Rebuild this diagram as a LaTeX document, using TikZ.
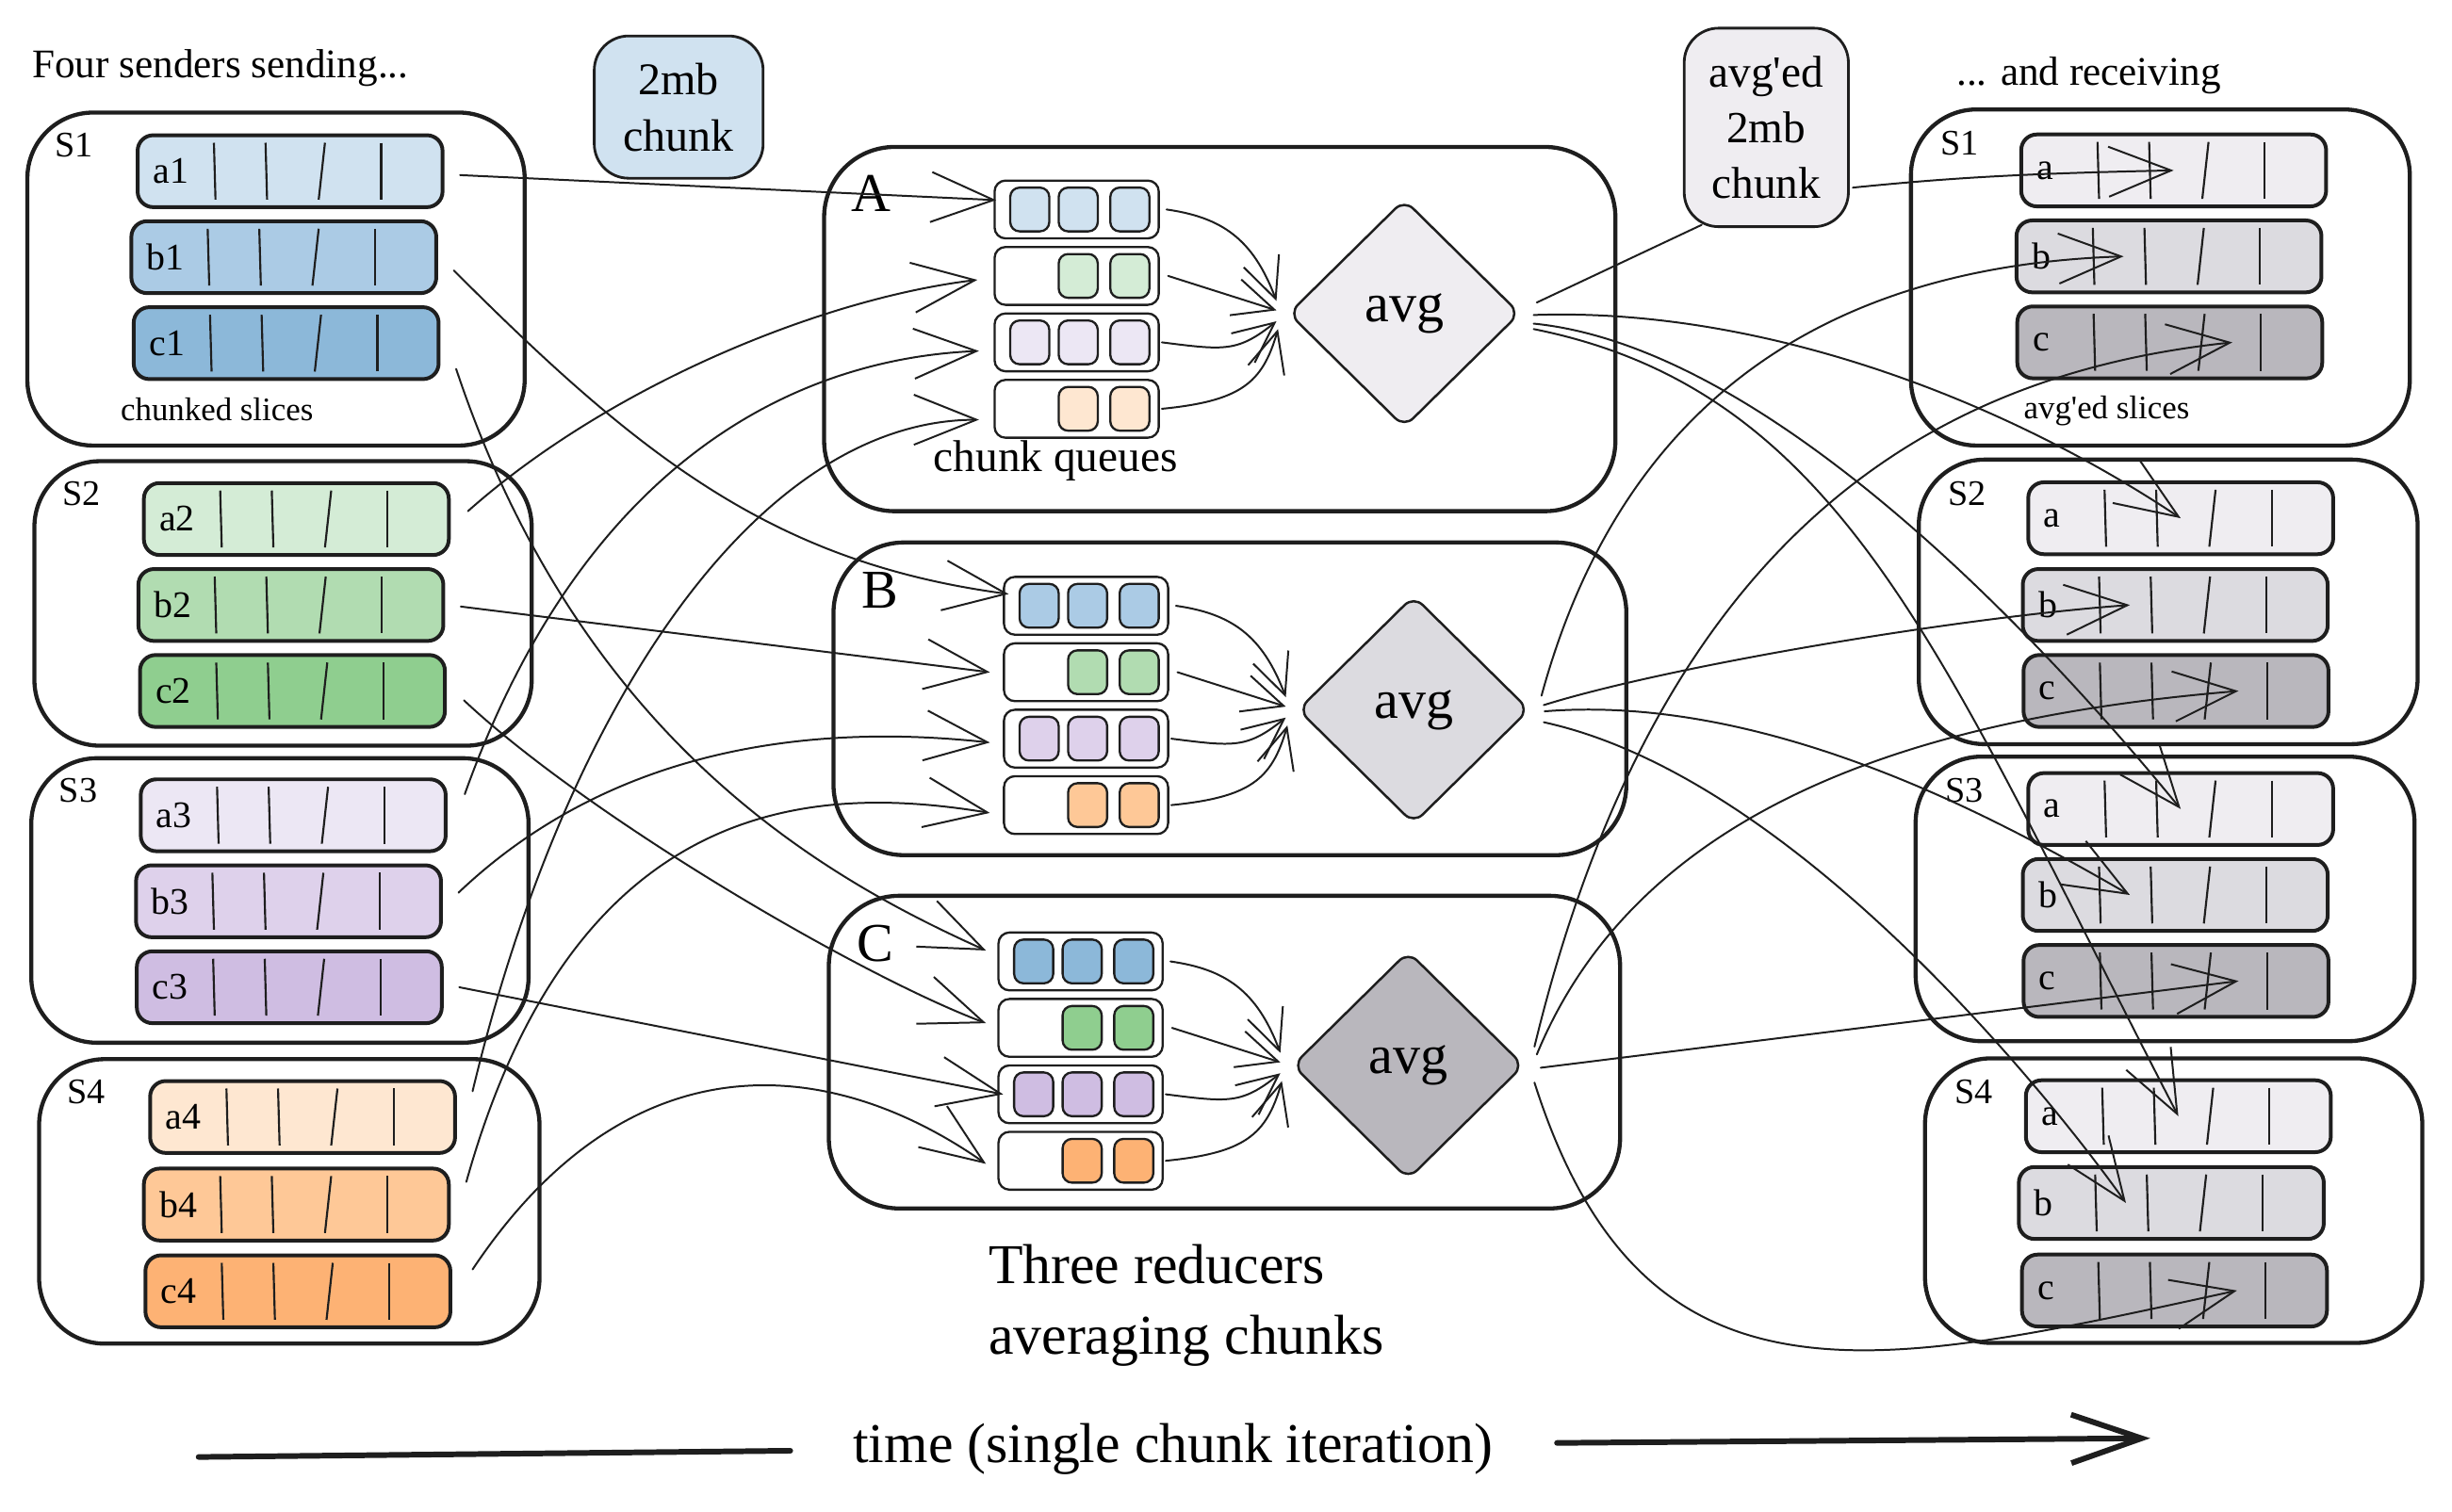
\documentclass[tikz,border=0pt]{standalone}
\usepackage{fontspec}
\setmainfont{Liberation Serif}
\usetikzlibrary{arrows.meta,positioning,shapes.geometric}

\definecolor{ink}{HTML}{1E1E1E}
\definecolor{blueA}{HTML}{D0E2F0}
\definecolor{blueB}{HTML}{ABCBE5}
\definecolor{blueC}{HTML}{8CB8D9}
\definecolor{greenA}{HTML}{D4ECD6}
\definecolor{greenB}{HTML}{B1DCB1}
\definecolor{greenC}{HTML}{8FCE8F}
\definecolor{purpleA}{HTML}{ECE7F4}
\definecolor{purpleB}{HTML}{DED1EB}
\definecolor{purpleC}{HTML}{CFBDE2}
\definecolor{orangeA}{HTML}{FEE7D1}
\definecolor{orangeB}{HTML}{FEC897}
\definecolor{orangeC}{HTML}{FDB274}
\definecolor{grayA}{HTML}{EFEDF1}
\definecolor{grayB}{HTML}{DCDBE0}
\definecolor{grayC}{HTML}{B9B7BD}

\tikzset{
  sender/.style={draw=ink, line width=2.6pt, rounded corners=42pt, minimum width=318pt, minimum height=182pt},
  reducer/.style={draw=ink, line width=2.6pt, rounded corners=45pt, minimum width=506pt, minimum height=200pt},
  slicebox/.style={draw=ink, line width=2.4pt, rounded corners=10pt, text width=175pt, inner xsep=10pt, inner ysep=0pt, minimum height=46pt, align=left, font=\fontsize{24}{28}\selectfont},
  divider/.style={draw=ink, line width=1.3pt},
  queuerow/.style={draw=ink, line width=1.4pt, rounded corners=7pt, minimum width=105pt, minimum height=37pt, inner sep=0pt, outer sep=0pt},
  qcell/.style={draw=ink, line width=1.4pt, rounded corners=6pt, minimum width=25pt, minimum height=28pt, inner sep=0pt},
  avgdiamond/.style={diamond, draw=ink, line width=1.5pt, rounded corners=8pt, minimum width=148pt, minimum height=146pt, inner sep=0pt, font=\fontsize{35}{40}\selectfont},
  legendbox/.style={draw=ink, line width=1.7pt, rounded corners=22pt, align=center, inner sep=0pt, font=\fontsize{29}{36}\selectfont},
  boxlab/.style={anchor=base west, inner sep=0pt, font=\fontsize{23}{27}\selectfont},
  redlab/.style={inner sep=0pt, font=\fontsize{35}{40}\selectfont},
  note/.style={anchor=base west, inner sep=0pt, font=\fontsize{26}{31}\selectfont},
  smallnote/.style={anchor=base west, inner sep=0pt, font=\fontsize{21}{25}\selectfont},
  bignote/.style={inner sep=0pt, font=\fontsize{36}{45}\selectfont},
  conn/.style={draw=ink, line width=1.2pt, line cap=round, -{Straight Barb[length=40pt, width=32pt]}},
  joinline/.style={draw=ink, line width=1.2pt, line cap=round},
  feed/.style={draw=ink, line width=1.2pt, line cap=round, -{Straight Barb[length=26pt, width=24pt]}},
  timeline/.style={draw=ink, line width=3.6pt, line cap=round},
}

\begin{document}
\begin{tikzpicture}[x=1pt, y=-1pt]
  \useasboundingbox (0,0) rectangle (1568,967);

  % senders
  \node[note] (sendnote) at (20.5,50) {Four senders sending...};
  \node[sender, minimum height=213pt] (s1) at (176.5,178.5) {};
  \node[sender] (s2) at (181,386) {};
  \node[sender] (s3) at (179,576) {};
  \node[sender, minimum width=320pt] (s4) at (185,768.5) {};
  \foreach \n in {1,...,4}
    \node[boxlab] (slab\n) at ([shift={(19,29.5)}]s\n.north west) {S\n};
  \node[slicebox, fill=blueA] (a1) at (185.5,109.5) {a1};
  \node[slicebox, fill=blueB] (b1) at (181.5,164.5) {b1};
  \node[slicebox, fill=blueC] (c1) at (183,219.5) {c1};
  \node[slicebox, fill=greenA] (a2) at (189.5,332) {a2};
  \node[slicebox, fill=greenB] (b2) at (186,387) {b2};
  \node[slicebox, fill=greenC] (c2) at (187,442) {c2};
  \node[slicebox, fill=purpleA] (a3) at (187.5,521.5) {a3};
  \node[slicebox, fill=purpleB] (b3) at (184.5,576.5) {b3};
  \node[slicebox, fill=purpleC] (c3) at (185,631.5) {c3};
  \node[slicebox, fill=orangeA] (a4) at (193.5,714.5) {a4};
  \node[slicebox, fill=orangeB] (b4) at (189.5,770.5) {b4};
  \node[slicebox, fill=orangeC] (c4) at (190.5,826) {c4};
  \node[smallnote] (chunknote) at (77,269) {chunked slices};
  \node[legendbox, fill=blueA, minimum width=108pt, minimum height=91pt] (mbbox) at (434,68.5) {2mb\\chunk};

  % reducers
  \node[reducer, minimum height=233pt] (rA) at (780,210.5) {};
  \node[reducer, minimum width=507pt] (rB) at (786.5,447) {};
  \node[reducer] (rC) at (783,673) {};
  \node[redlab] (labA) at (557,123.5) {A};
  \node[redlab] (labB) at (563,377.5) {B};
  \node[redlab] (labC) at (560,603.5) {C};
  \node[queuerow] (qA1) at (688.5,134) {};
  \node[queuerow, below=5.5pt of qA1] (qA2) {};
  \node[queuerow, below=5.5pt of qA2] (qA3) {};
  \node[queuerow, below=5.5pt of qA3] (qA4) {};
  \node[queuerow] (qB1) at (694.5,387.5) {};
  \node[queuerow, below=5.5pt of qB1] (qB2) {};
  \node[queuerow, below=5.5pt of qB2] (qB3) {};
  \node[queuerow, below=5.5pt of qB3] (qB4) {};
  \node[queuerow] (qC1) at (691,615) {};
  \node[queuerow, below=5.5pt of qC1] (qC2) {};
  \node[queuerow, below=5.5pt of qC2] (qC3) {};
  \node[queuerow, below=5.5pt of qC3] (qC4) {};
  \foreach \q in {A,B,C} {
    \foreach \row/\cl in {1/blue,3/purple}
      \foreach \off [count=\idx] in {-30,1,34}
        \node[qcell, fill=\cl\q] (q\q\row-\idx) at ([xshift=\off pt]q\q\row.center) {};
    \foreach \row/\cl in {2/green,4/orange}
      \foreach \off [count=\idx] in {1,34}
        \node[qcell, fill=\cl\q] (q\q\row-\idx) at ([xshift=\off pt]q\q\row.center) {};
  }
  \node[inner sep=0pt, font=\fontsize{28.5}{34}\selectfont] (queuenote) at (675,295) {chunk queues};
  \node[avgdiamond, fill=grayA] (avgA) at (898,200.5) {avg};
  \node[avgdiamond, fill=grayB] (avgB) at (904,454) {avg};
  \node[avgdiamond, fill=grayC] (avgC) at (900.5,681.5) {avg};
  \node[bignote, anchor=west, align=left] (rednote) at (632,835) {Three reducers\\averaging chunks};

  % receivers
  \node[note] (recvnote) at (1251,54.6) {... and receiving};
  \node[legendbox, fill=grayA, minimum width=105pt, minimum height=127pt, font=\fontsize{28.5}{35.7}\selectfont] (avgbox) at (1129.5,81.5) {avg\textquotesingle ed\\2mb\\chunk};
  \node[sender, minimum width=319pt, minimum height=215pt] (t1) at (1381.5,177.5) {};
  \node[sender, minimum width=319pt] (t2) at (1386.5,385) {};
  \node[sender, minimum width=319pt] (t3) at (1384.5,575) {};
  \node[sender] (t4) at (1390,768) {};
  \foreach \n in {1,...,4}
    \node[boxlab] (tlab\n) at ([shift={(20,30.5)}]t\n.north west) {S\n};
  \node[slicebox, fill=grayA] (ta1) at (1390,109) {a};
  \node[slicebox, fill=grayB] (tb1) at (1387,164) {b};
  \node[slicebox, fill=grayC] (tc1) at (1387.5,219) {c};
  \node[slicebox, fill=grayA] (ta2) at (1394.5,331.5) {a};
  \node[slicebox, fill=grayB] (tb2) at (1391,387) {b};
  \node[slicebox, fill=grayC] (tc2) at (1391.5,442) {c};
  \node[slicebox, fill=grayA] (ta3) at (1394.5,517.5) {a};
  \node[slicebox, fill=grayB] (tb3) at (1391,572.5) {b};
  \node[slicebox, fill=grayC] (tc3) at (1391.5,627.5) {c};
  \node[slicebox, fill=grayA] (ta4) at (1393,714) {a};
  \node[slicebox, fill=grayB] (tb4) at (1388.5,769.5) {b};
  \node[slicebox, fill=grayC] (tc4) at (1390.5,825.5) {c};
  \node[smallnote] (slicenote) at (1294,268) {avg\textquotesingle ed slices};

  % slice dividers
  \foreach \s in {a1,b1,c1,a2,b2,c2,a3,b3,c3,a4,b4,c4,ta1,tb1,tc1,ta2,tb2,tc2,ta3,tb3,tc3,ta4,tb4,tc4}
    \foreach \u/\v in {50/51,83/84,121/117,157/157}
      \draw[divider] ([shift={(\u,6)}]\s.north west) -- ([shift={(\v,-6)}]\s.south west);

  % senders to chunk queues
  \draw[conn] ([shift={(10,2.5)}]a1.east) -- ([shift={(1,-6)}]qA1.west);
  \draw[conn] ([shift={(10,8.5)}]b1.east) .. controls +(120,120) and +(-150,-20) .. ([shift={(3,-7.5)}]qB1.west);
  \draw[conn] ([shift={(10,16.5)}]c1.east) .. controls +(80,240) and +(-100,-45) .. ([shift={(-8,-7)}]qC1.west);
  \draw[conn] ([shift={(11,-5)}]a2.east) .. controls +(90,-80) and +(-100,12) .. ([shift={(-11,2.5)}]qA2.west);
  \draw[conn] ([shift={(10,1)}]b2.east) -- ([shift={(-9,0)}]qB2.west);
  \draw[conn] ([shift={(11,6)}]c2.east) .. controls +(80,75) and +(-80,-30) .. ([shift={(-8,-3)}]qC2.west);
  \draw[conn] ([shift={(11,-13.5)}]a3.east) .. controls +(75,-210) and +(-120,5) .. ([shift={(-10,5.5)}]qA3.west);
  \draw[conn] ([shift={(10,-5.5)}]b3.east) .. controls +(100,-95) and +(-110,-12) .. ([shift={(-9,2.5)}]qB3.west);
  \draw[conn] ([shift={(10,0)}]c3.east) -- ([shift={(3,0)}]qC3.west);
  \draw[conn] ([shift={(10,-16.5)}]a4.east) .. controls +(60,-250) and +(-140,0) .. ([shift={(-10,7)}]qA4.west);
  \draw[conn] ([shift={(10,-14.5)}]b4.east) .. controls +(70,-250) and +(-110,-18) .. ([shift={(-9,5)}]qB4.west);
  \draw[conn] ([shift={(13,-14)}]c4.east) .. controls +(100,-150) and +(-100,-70) .. ([shift={(-8,2)}]qC4.west);

  % queues into the averaging step
  \foreach \q in {A,B,C} {
    \draw[feed] ([xshift=5pt]q\q1.east) .. controls +(35,5) and +(-15,-40) .. ([shift={(-7,-8)}]avg\q.west);
    \draw[feed] ([xshift=6pt]q\q2.east) -- ([shift={(-7,-2)}]avg\q.west);
    \draw[feed] ([xshift=2pt]q\q3.east) .. controls +(40,5) and +(-25,20) .. ([shift={(-7,5)}]avg\q.west);
    \draw[feed] ([xshift=2pt]q\q4.east) .. controls +(50,-5) and +(-10,35) .. ([shift={(-6,10)}]avg\q.west);
  }

  % averaged chunks back to every receiver
  \draw[joinline] ([shift={(10,-7)}]avgA.east) -- ([shift={(12,-2)}]avgbox.south west);
  \draw[conn] ([shift={(2,38.5)}]avgbox.east) .. controls +(60,-6) and +(-100,2) .. (ta1.center);
  \draw[conn] ([shift={(8,1)}]avgA.east) .. controls +(140,-5) and +(-120,-80) .. (ta2.center);
  \draw[conn] ([shift={(8,6.5)}]avgA.east) .. controls +(150,15) and +(-90,-110) .. (ta3.center);
  \draw[conn] ([shift={(8,10)}]avgA.east) .. controls +(200,40) and +(-150,-290) .. (ta4.center);
  \draw[conn] ([shift={(7,-9)}]avgB.east) .. controls +(60,-220) and +(-150,5) .. ([xshift=-29pt]tb1.center);
  \draw[conn] ([shift={(8.5,-3)}]avgB.east) .. controls +(80,-25) and +(-110,8) .. ([xshift=-29pt]tb2.center);
  \draw[conn] ([shift={(9,1)}]avgB.east) .. controls +(150,-12) and +(-70,-40) .. ([xshift=-29pt]tb3.center);
  \draw[conn] ([shift={(8.5,8)}]avgB.east) .. controls +(160,35) and +(-50,-70) .. ([xshift=-29pt]tb4.center);
  \draw[conn] ([shift={(6,-12)}]avgC.east) .. controls +(80,-330) and +(-190,20) .. ([xshift=40pt]tc1.center);
  \draw[conn] ([shift={(7.5,-7)}]avgC.east) .. controls +(70,-170) and +(-180,15) .. ([xshift=40pt]tc2.center);
  \draw[conn] ([shift={(10,1.5)}]avgC.east) -- ([xshift=40pt]tc3.center);
  \draw[conn] ([shift={(6,11)}]avgC.east) .. controls +(70,220) and +(-230,50) .. ([xshift=40pt]tc4.center);

  % time axis
  \node[bignote] (timelab) at (750,927) {time (single chunk iteration)};
  \coordinate (tstart) at (127,932);
  \coordinate (tend) at (1375,920);
  \draw[timeline] (tstart) -- ([shift={(-40,1)}]timelab.west);
  \draw[timeline, -{Straight Barb[length=45pt, width=31pt]}] ([shift={(41,-4)}]timelab.east) -- (tend);
\end{tikzpicture}
\end{document}
